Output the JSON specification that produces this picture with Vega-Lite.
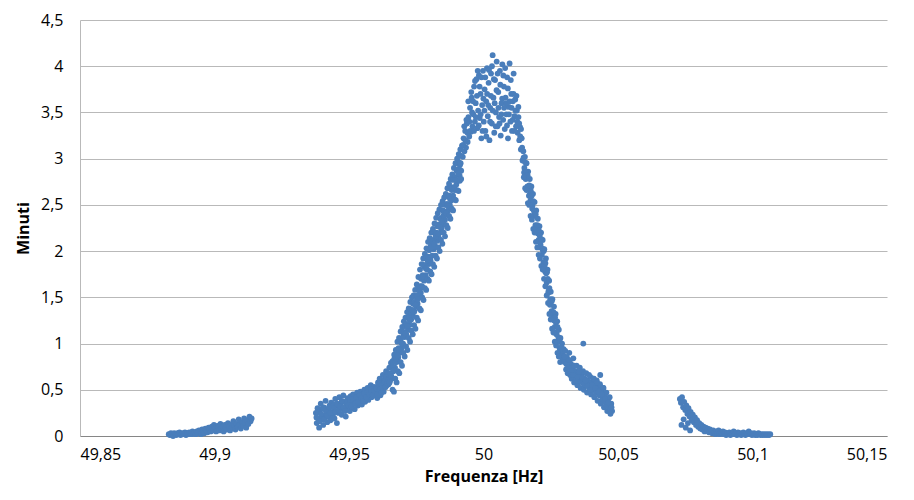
{
"$schema": "https://vega.github.io/schema/vega-lite/v6.json",
"width": 807, "height": 416,
"autosize": {"type": "none"},
"padding": {"left": 80, "top": 20, "right": 27, "bottom": 64},
"background": "white",
"config": {"view": {"stroke": null}, "font": "Open Sans"},
"data": {"values": [
{"f":49.8830,"m":0.02},{"f":49.8834,"m":0.01},{"f":49.8838,"m":0.03},{"f":49.8842,"m":0.02},{"f":49.8846,"m":0.00},{"f":49.8850,"m":0.03},{"f":49.8854,"m":0.02},{"f":49.8858,"m":0.01},{"f":49.8862,"m":0.03},{"f":49.8866,"m":0.02},
{"f":49.8870,"m":0.04},{"f":49.8874,"m":0.01},{"f":49.8878,"m":0.02},{"f":49.8882,"m":0.03},{"f":49.8886,"m":0.02},{"f":49.8890,"m":0.04},{"f":49.8894,"m":0.01},{"f":49.8898,"m":0.03},{"f":49.8902,"m":0.02},{"f":49.8906,"m":0.04},
{"f":49.8910,"m":0.03},{"f":49.8914,"m":0.02},{"f":49.8918,"m":0.05},{"f":49.8922,"m":0.03},{"f":49.8926,"m":0.04},{"f":49.8930,"m":0.02},{"f":49.8934,"m":0.05},{"f":49.8938,"m":0.03},{"f":49.8942,"m":0.06},{"f":49.8946,"m":0.04},
{"f":49.8950,"m":0.02},{"f":49.8954,"m":0.07},{"f":49.8958,"m":0.05},{"f":49.8962,"m":0.03},{"f":49.8966,"m":0.08},{"f":49.8970,"m":0.06},{"f":49.8974,"m":0.04},{"f":49.8978,"m":0.09},{"f":49.8982,"m":0.07},{"f":49.8986,"m":0.05},
{"f":49.8990,"m":0.10},{"f":49.8994,"m":0.06},{"f":49.8998,"m":0.12},{"f":49.9002,"m":0.08},{"f":49.9006,"m":0.05},{"f":49.9010,"m":0.11},{"f":49.9014,"m":0.09},{"f":49.9018,"m":0.06},{"f":49.9022,"m":0.13},{"f":49.9026,"m":0.08},
{"f":49.9030,"m":0.10},{"f":49.9034,"m":0.05},{"f":49.9038,"m":0.12},{"f":49.9042,"m":0.09},{"f":49.9046,"m":0.07},{"f":49.9050,"m":0.14},{"f":49.9054,"m":0.10},{"f":49.9058,"m":0.06},{"f":49.9062,"m":0.12},{"f":49.9066,"m":0.09},
{"f":49.9070,"m":0.16},{"f":49.9074,"m":0.11},{"f":49.9078,"m":0.07},{"f":49.9082,"m":0.13},{"f":49.9086,"m":0.10},{"f":49.9090,"m":0.18},{"f":49.9094,"m":0.12},{"f":49.9098,"m":0.08},{"f":49.9102,"m":0.15},{"f":49.9106,"m":0.11},
{"f":49.9110,"m":0.19},{"f":49.9114,"m":0.14},{"f":49.9118,"m":0.09},{"f":49.9122,"m":0.17},{"f":49.9126,"m":0.13},{"f":49.9130,"m":0.21},{"f":49.9134,"m":0.16},{"f":49.9138,"m":0.19},

{"f":49.9377,"m":0.25},{"f":49.9380,"m":0.14},{"f":49.9383,"m":0.30},{"f":49.9386,"m":0.19},{"f":49.9389,"m":0.09},{"f":49.9392,"m":0.27},{"f":49.9395,"m":0.35},{"f":49.9398,"m":0.18},{"f":49.9401,"m":0.22},{"f":49.9404,"m":0.12},
{"f":49.9407,"m":0.31},{"f":49.9410,"m":0.20},{"f":49.9413,"m":0.38},{"f":49.9416,"m":0.24},{"f":49.9419,"m":0.15},{"f":49.9422,"m":0.29},{"f":49.9425,"m":0.21},{"f":49.9428,"m":0.33},{"f":49.9431,"m":0.17},{"f":49.9434,"m":0.36},
{"f":49.9437,"m":0.26},{"f":49.9440,"m":0.22},{"f":49.9443,"m":0.34},{"f":49.9446,"m":0.19},{"f":49.9449,"m":0.40},{"f":49.9452,"m":0.27},{"f":49.9455,"m":0.14},{"f":49.9458,"m":0.33},{"f":49.9461,"m":0.25},{"f":49.9464,"m":0.42},
{"f":49.9467,"m":0.29},{"f":49.9470,"m":0.36},{"f":49.9473,"m":0.23},{"f":49.9476,"m":0.31},{"f":49.9479,"m":0.44},{"f":49.9482,"m":0.28},{"f":49.9485,"m":0.37},{"f":49.9488,"m":0.21},{"f":49.9491,"m":0.33},{"f":49.9494,"m":0.41},
{"f":49.9497,"m":0.30},{"f":49.9500,"m":0.38},{"f":49.9503,"m":0.27},{"f":49.9506,"m":0.43},{"f":49.9509,"m":0.34},{"f":49.9512,"m":0.30},{"f":49.9515,"m":0.45},{"f":49.9518,"m":0.36},{"f":49.9521,"m":0.29},{"f":49.9524,"m":0.41},
{"f":49.9527,"m":0.35},{"f":49.9530,"m":0.47},{"f":49.9533,"m":0.33},{"f":49.9536,"m":0.40},{"f":49.9539,"m":0.36},{"f":49.9542,"m":0.48},{"f":49.9545,"m":0.38},{"f":49.9548,"m":0.34},{"f":49.9551,"m":0.45},{"f":49.9554,"m":0.40},
{"f":49.9557,"m":0.50},{"f":49.9560,"m":0.37},{"f":49.9563,"m":0.44},{"f":49.9566,"m":0.41},{"f":49.9569,"m":0.52},{"f":49.9572,"m":0.39},{"f":49.9575,"m":0.47},{"f":49.9578,"m":0.43},{"f":49.9581,"m":0.55},{"f":49.9584,"m":0.42},
{"f":49.9587,"m":0.49},{"f":49.9590,"m":0.46},{"f":49.9593,"m":0.53},{"f":49.9596,"m":0.44},{"f":49.9599,"m":0.50},
{"f":49.9379,"m":0.20},{"f":49.9385,"m":0.26},{"f":49.9390,"m":0.16},{"f":49.9396,"m":0.24},{"f":49.9402,"m":0.30},{"f":49.9408,"m":0.18},{"f":49.9414,"m":0.27},{"f":49.9420,"m":0.22},{"f":49.9426,"m":0.31},{"f":49.9432,"m":0.25},
{"f":49.9438,"m":0.19},{"f":49.9444,"m":0.30},{"f":49.9450,"m":0.26},{"f":49.9456,"m":0.35},{"f":49.9462,"m":0.28},{"f":49.9468,"m":0.32},{"f":49.9474,"m":0.38},{"f":49.9480,"m":0.31},{"f":49.9486,"m":0.27},{"f":49.9492,"m":0.36},
{"f":49.9498,"m":0.33},{"f":49.9504,"m":0.39},{"f":49.9510,"m":0.32},{"f":49.9516,"m":0.40},{"f":49.9522,"m":0.35},{"f":49.9528,"m":0.42},{"f":49.9534,"m":0.37},{"f":49.9540,"m":0.44},{"f":49.9546,"m":0.41},{"f":49.9552,"m":0.38},
{"f":49.9558,"m":0.46},{"f":49.9564,"m":0.42},{"f":49.9570,"m":0.48},{"f":49.9576,"m":0.45},{"f":49.9582,"m":0.50},{"f":49.9588,"m":0.44},{"f":49.9594,"m":0.49},{"f":49.9600,"m":0.52},

{"f":49.9602,"m":0.52},{"f":49.9605,"m":0.41},{"f":49.9608,"m":0.58},{"f":49.9611,"m":0.47},{"f":49.9614,"m":0.62},{"f":49.9617,"m":0.44},{"f":49.9620,"m":0.57},{"f":49.9623,"m":0.50},{"f":49.9626,"m":0.66},{"f":49.9629,"m":0.48},
{"f":49.9632,"m":0.61},{"f":49.9635,"m":0.53},{"f":49.9638,"m":0.70},{"f":49.9641,"m":0.55},{"f":49.9644,"m":0.68},{"f":49.9647,"m":0.56},{"f":49.9650,"m":0.74},{"f":49.9653,"m":0.60},{"f":49.9656,"m":0.79},{"f":49.9659,"m":0.63},
{"f":49.9662,"m":0.81},{"f":49.9665,"m":0.70},{"f":49.9668,"m":0.88},{"f":49.9671,"m":0.74},{"f":49.9674,"m":0.93},{"f":49.9677,"m":0.80},{"f":49.9680,"m":1.02},{"f":49.9683,"m":0.85},{"f":49.9686,"m":1.06},{"f":49.9689,"m":0.90},
{"f":49.9692,"m":1.13},{"f":49.9695,"m":0.95},{"f":49.9698,"m":1.18},{"f":49.9701,"m":1.00},{"f":49.9704,"m":1.24},{"f":49.9707,"m":1.07},{"f":49.9710,"m":1.28},{"f":49.9713,"m":1.10},{"f":49.9716,"m":1.34},{"f":49.9719,"m":1.15},
{"f":49.9722,"m":1.38},{"f":49.9725,"m":1.20},{"f":49.9728,"m":1.45},{"f":49.9731,"m":1.26},{"f":49.9734,"m":1.50},{"f":49.9737,"m":1.30},{"f":49.9740,"m":1.52},{"f":49.9743,"m":1.35},{"f":49.9746,"m":1.58},{"f":49.9749,"m":1.40},
{"f":49.9752,"m":1.64},{"f":49.9755,"m":1.43},{"f":49.9758,"m":1.72},{"f":49.9761,"m":1.50},{"f":49.9764,"m":1.80},{"f":49.9767,"m":1.55},{"f":49.9770,"m":1.86},{"f":49.9773,"m":1.61},{"f":49.9776,"m":1.92},{"f":49.9779,"m":1.68},
{"f":49.9782,"m":1.97},{"f":49.9785,"m":1.74},{"f":49.9788,"m":2.03},{"f":49.9791,"m":1.80},{"f":49.9794,"m":2.10},{"f":49.9797,"m":1.86},{"f":49.9800,"m":2.14},{"f":49.9803,"m":1.90},{"f":49.9806,"m":2.20},{"f":49.9809,"m":1.95},
{"f":49.9812,"m":2.24},{"f":49.9815,"m":2.02},{"f":49.9818,"m":2.30},{"f":49.9821,"m":2.05},{"f":49.9824,"m":2.36},{"f":49.9827,"m":2.11},{"f":49.9830,"m":2.41},{"f":49.9833,"m":2.15},{"f":49.9836,"m":2.45},{"f":49.9839,"m":2.20},
{"f":49.9842,"m":2.50},{"f":49.9845,"m":2.25},{"f":49.9848,"m":2.54},{"f":49.9851,"m":2.30},{"f":49.9854,"m":2.58},{"f":49.9857,"m":2.34},{"f":49.9860,"m":2.62},{"f":49.9863,"m":2.40},{"f":49.9866,"m":2.68},{"f":49.9869,"m":2.44},
{"f":49.9872,"m":2.73},{"f":49.9875,"m":2.50},{"f":49.9878,"m":2.78},{"f":49.9881,"m":2.55},{"f":49.9884,"m":2.83},{"f":49.9887,"m":2.60},{"f":49.9890,"m":2.90},{"f":49.9893,"m":2.66},{"f":49.9896,"m":2.95},{"f":49.9899,"m":2.72},
{"f":49.9902,"m":3.00},{"f":49.9905,"m":2.76},{"f":49.9908,"m":3.05},{"f":49.9911,"m":2.82},{"f":49.9914,"m":3.10},{"f":49.9917,"m":2.87},{"f":49.9920,"m":3.14},
{"f":49.9603,"m":0.51},{"f":49.9606,"m":0.45},{"f":49.9609,"m":0.56},{"f":49.9612,"m":0.50},{"f":49.9615,"m":0.51},{"f":49.9618,"m":0.57},{"f":49.9621,"m":0.47},{"f":49.9624,"m":0.56},{"f":49.9627,"m":0.52},{"f":49.9630,"m":0.59},
{"f":49.9633,"m":0.59},{"f":49.9636,"m":0.53},{"f":49.9639,"m":0.64},{"f":49.9642,"m":0.57},{"f":49.9645,"m":0.60},{"f":49.9648,"m":0.67},{"f":49.9651,"m":0.58},{"f":49.9654,"m":0.68},{"f":49.9657,"m":0.65},{"f":49.9660,"m":0.74},
{"f":49.9663,"m":0.75},{"f":49.9666,"m":0.71},{"f":49.9669,"m":0.84},{"f":49.9672,"m":0.80},{"f":49.9675,"m":0.84},{"f":49.9678,"m":0.92},{"f":49.9681,"m":0.87},{"f":49.9684,"m":0.95},{"f":49.9687,"m":0.93},{"f":49.9690,"m":1.03},
{"f":49.9693,"m":1.05},{"f":49.9696,"m":1.00},{"f":49.9699,"m":1.13},{"f":49.9702,"m":1.08},{"f":49.9705,"m":1.12},{"f":49.9708,"m":1.19},{"f":49.9711,"m":1.11},{"f":49.9714,"m":1.21},{"f":49.9717,"m":1.19},{"f":49.9720,"m":1.28},
{"f":49.9723,"m":1.30},{"f":49.9726,"m":1.25},{"f":49.9729,"m":1.37},{"f":49.9732,"m":1.33},{"f":49.9735,"m":1.36},{"f":49.9738,"m":1.43},{"f":49.9741,"m":1.34},{"f":49.9744,"m":1.45},{"f":49.9747,"m":1.42},{"f":49.9750,"m":1.51},
{"f":49.9753,"m":1.52},{"f":49.9756,"m":1.48},{"f":49.9759,"m":1.61},{"f":49.9762,"m":1.57},{"f":49.9765,"m":1.62},{"f":49.9768,"m":1.70},{"f":49.9771,"m":1.62},{"f":49.9774,"m":1.74},{"f":49.9777,"m":1.72},{"f":49.9780,"m":1.83},
{"f":49.9783,"m":1.85},{"f":49.9786,"m":1.81},{"f":49.9789,"m":1.94},{"f":49.9792,"m":1.90},{"f":49.9795,"m":1.94},{"f":49.9798,"m":2.01},{"f":49.9801,"m":1.93},{"f":49.9804,"m":2.06},{"f":49.9807,"m":2.04},{"f":49.9810,"m":2.11},
{"f":49.9813,"m":2.12},{"f":49.9816,"m":2.08},{"f":49.9819,"m":2.20},{"f":49.9822,"m":2.16},{"f":49.9825,"m":2.20},{"f":49.9828,"m":2.27},{"f":49.9831,"m":2.19},{"f":49.9834,"m":2.29},{"f":49.9837,"m":2.26},{"f":49.9840,"m":2.35},
{"f":49.9843,"m":2.36},{"f":49.9846,"m":2.32},{"f":49.9849,"m":2.44},{"f":49.9852,"m":2.39},{"f":49.9855,"m":2.43},{"f":49.9858,"m":2.50},{"f":49.9861,"m":2.41},{"f":49.9864,"m":2.51},{"f":49.9867,"m":2.49},{"f":49.9870,"m":2.59},
{"f":49.9873,"m":2.60},{"f":49.9876,"m":2.56},{"f":49.9879,"m":2.69},{"f":49.9882,"m":2.66},{"f":49.9885,"m":2.69},{"f":49.9888,"m":2.77},{"f":49.9891,"m":2.69},{"f":49.9894,"m":2.80},{"f":49.9897,"m":2.77},{"f":49.9900,"m":2.87},
{"f":49.9903,"m":2.88},{"f":49.9906,"m":2.84},{"f":49.9909,"m":2.96},{"f":49.9912,"m":2.93},{"f":49.9915,"m":2.95},{"f":49.9918,"m":3.03},
{"f":49.9662,"m":0.50},{"f":49.9667,"m":0.48},{"f":49.9672,"m":0.62},{"f":49.9677,"m":0.58},{"f":49.9682,"m":0.70},{"f":49.9687,"m":0.68},{"f":49.9692,"m":0.80},{"f":49.9697,"m":0.76},{"f":49.9702,"m":0.90},{"f":49.9707,"m":0.86},
{"f":49.9712,"m":0.97},{"f":49.9717,"m":0.93},{"f":49.9722,"m":1.06},{"f":49.9727,"m":1.02},{"f":49.9732,"m":1.14},{"f":49.9737,"m":1.10},{"f":49.9742,"m":1.20},{"f":49.9747,"m":1.16},{"f":49.9752,"m":1.28},{"f":49.9757,"m":1.25},
{"f":49.9762,"m":1.38},{"f":49.9767,"m":1.36},{"f":49.9772,"m":1.50},{"f":49.9777,"m":1.47},{"f":49.9782,"m":1.60},{"f":49.9787,"m":1.58},{"f":49.9792,"m":1.70},{"f":49.9797,"m":1.68},{"f":49.9802,"m":1.78},{"f":49.9807,"m":1.75},
{"f":49.9812,"m":1.86},{"f":49.9817,"m":1.83},{"f":49.9822,"m":1.95},{"f":49.9827,"m":1.92},{"f":49.9832,"m":2.04},{"f":49.9837,"m":2.00},{"f":49.9842,"m":2.12},{"f":49.9847,"m":2.08},{"f":49.9852,"m":2.20},{"f":49.9857,"m":2.16},
{"f":49.9862,"m":2.28},{"f":49.9867,"m":2.25},{"f":49.9872,"m":2.38},{"f":49.9877,"m":2.35},{"f":49.9882,"m":2.46},{"f":49.9887,"m":2.44},{"f":49.9892,"m":2.56},{"f":49.9897,"m":2.55},{"f":49.9902,"m":2.66},{"f":49.9907,"m":2.65},
{"f":49.9912,"m":2.76},{"f":49.9917,"m":2.78},

{"f":49.9923,"m":3.02},{"f":49.9926,"m":3.22},{"f":49.9929,"m":3.08},{"f":49.9932,"m":3.30},{"f":49.9935,"m":3.12},{"f":49.9938,"m":3.38},{"f":49.9941,"m":3.18},{"f":49.9944,"m":3.45},{"f":49.9947,"m":3.24},{"f":49.9950,"m":3.55},
{"f":49.9953,"m":3.29},{"f":49.9956,"m":3.66},{"f":49.9959,"m":3.35},{"f":49.9962,"m":3.48},{"f":49.9965,"m":3.78},{"f":49.9968,"m":3.40},{"f":49.9971,"m":3.60},{"f":49.9974,"m":3.86},{"f":49.9977,"m":3.33},{"f":49.9980,"m":3.52},
{"f":49.9983,"m":3.90},{"f":49.9986,"m":3.44},{"f":49.9989,"m":3.70},{"f":49.9992,"m":3.22},{"f":49.9995,"m":3.58},{"f":49.9998,"m":3.95},{"f":50.0001,"m":3.40},{"f":50.0004,"m":3.75},{"f":50.0007,"m":3.30},{"f":50.0010,"m":3.62},
{"f":50.0013,"m":3.98},{"f":50.0016,"m":3.46},{"f":50.0019,"m":3.82},{"f":50.0022,"m":3.20},{"f":50.0025,"m":3.55},{"f":50.0028,"m":3.92},{"f":50.0031,"m":3.38},{"f":50.0034,"m":4.12},{"f":50.0037,"m":3.66},{"f":50.0040,"m":3.28},
{"f":50.0043,"m":3.85},{"f":50.0046,"m":3.50},{"f":50.0049,"m":4.05},{"f":50.0052,"m":3.35},{"f":50.0055,"m":3.72},{"f":50.0058,"m":3.45},{"f":50.0061,"m":3.95},{"f":50.0064,"m":3.25},{"f":50.0067,"m":3.60},{"f":50.0070,"m":4.02},
{"f":50.0073,"m":3.42},{"f":50.0076,"m":3.78},{"f":50.0079,"m":3.32},{"f":50.0082,"m":3.66},{"f":50.0085,"m":3.48},{"f":50.0088,"m":3.88},{"f":50.0091,"m":3.22},{"f":50.0094,"m":3.56},{"f":50.0097,"m":4.03},{"f":50.0100,"m":3.40},
{"f":50.0103,"m":3.70},{"f":50.0106,"m":3.30},{"f":50.0109,"m":3.62},{"f":50.0112,"m":3.92},{"f":50.0115,"m":3.46},{"f":50.0118,"m":3.64},{"f":50.0121,"m":3.35},{"f":50.0124,"m":3.52},{"f":50.0127,"m":3.28},{"f":50.0130,"m":3.45},
{"f":50.0133,"m":3.20},{"f":50.0136,"m":3.34},{"f":50.0139,"m":3.10},{"f":50.0142,"m":3.22},{"f":50.0145,"m":2.98},
{"f":49.99245,"m":3.15},{"f":49.99285,"m":3.35},{"f":49.99325,"m":3.20},{"f":49.99365,"m":3.42},{"f":49.99405,"m":3.28},{"f":49.99435,"m":3.62},{"f":49.99475,"m":3.40},{"f":49.99505,"m":3.30},{"f":49.99545,"m":3.72},{"f":49.99575,"m":3.50},
{"f":49.99615,"m":3.62},{"f":49.99645,"m":3.30},{"f":49.99685,"m":3.84},{"f":49.99715,"m":3.45},{"f":49.99755,"m":3.68},{"f":49.99785,"m":3.95},{"f":49.99825,"m":3.36},{"f":49.99855,"m":3.78},{"f":49.99895,"m":3.48},{"f":49.99925,"m":3.88},
{"f":49.99965,"m":3.30},{"f":49.99995,"m":3.65},{"f":50.00035,"m":3.52},{"f":50.00065,"m":3.88},{"f":50.00105,"m":3.24},{"f":50.00135,"m":3.70},{"f":50.00175,"m":3.58},{"f":50.00205,"m":3.96},{"f":50.00245,"m":3.40},{"f":50.00275,"m":3.68},
{"f":50.00315,"m":4.00},{"f":50.00345,"m":3.52},{"f":50.00385,"m":3.86},{"f":50.00415,"m":3.60},{"f":50.00455,"m":3.35},{"f":50.00485,"m":3.74},{"f":50.00525,"m":3.92},{"f":50.00555,"m":3.55},{"f":50.00595,"m":3.38},{"f":50.00625,"m":3.80},
{"f":50.00665,"m":3.48},{"f":50.00695,"m":3.65},{"f":50.00735,"m":3.90},{"f":50.00765,"m":3.55},{"f":50.00805,"m":3.98},{"f":50.00835,"m":3.60},{"f":50.00875,"m":3.36},{"f":50.00905,"m":3.76},{"f":50.00945,"m":3.48},{"f":50.00975,"m":3.62},
{"f":50.01015,"m":3.85},{"f":50.01045,"m":3.55},{"f":50.01085,"m":3.42},{"f":50.01115,"m":3.70},{"f":50.01155,"m":3.30},{"f":50.01185,"m":3.52},{"f":50.01225,"m":3.68},{"f":50.01255,"m":3.40},{"f":50.01295,"m":3.56},{"f":50.01325,"m":3.38},
{"f":50.01365,"m":3.24},{"f":50.01395,"m":3.32},{"f":50.01435,"m":3.12},

{"f":50.0148,"m":3.08},{"f":50.0151,"m":2.85},{"f":50.0154,"m":3.02},{"f":50.0157,"m":2.78},{"f":50.0160,"m":2.95},{"f":50.0163,"m":2.70},{"f":50.0166,"m":2.86},{"f":50.0169,"m":2.60},{"f":50.0172,"m":2.78},{"f":50.0175,"m":2.55},
{"f":50.0178,"m":2.70},{"f":50.0181,"m":2.46},{"f":50.0184,"m":2.62},{"f":50.0187,"m":2.38},{"f":50.0190,"m":2.53},{"f":50.0193,"m":2.28},{"f":50.0196,"m":2.44},{"f":50.0199,"m":2.20},{"f":50.0202,"m":2.35},{"f":50.0205,"m":2.12},
{"f":50.0208,"m":2.27},{"f":50.0211,"m":2.04},{"f":50.0214,"m":2.20},{"f":50.0217,"m":1.96},{"f":50.0220,"m":2.12},{"f":50.0223,"m":1.88},{"f":50.0226,"m":2.02},{"f":50.0229,"m":1.78},{"f":50.0232,"m":1.92},{"f":50.0235,"m":1.66},
{"f":50.0238,"m":1.80},{"f":50.0241,"m":1.55},{"f":50.0244,"m":1.68},{"f":50.0247,"m":1.42},{"f":50.0250,"m":1.56},{"f":50.0253,"m":1.35},{"f":50.0256,"m":1.48},{"f":50.0259,"m":1.27},{"f":50.0262,"m":1.40},{"f":50.0265,"m":1.18},
{"f":50.0268,"m":1.32},{"f":50.0271,"m":1.10},{"f":50.0274,"m":1.24},{"f":50.0277,"m":1.02},{"f":50.0280,"m":1.15},{"f":50.0283,"m":0.95},{"f":50.0286,"m":1.06},{"f":50.0289,"m":0.88},{"f":50.0292,"m":1.00},{"f":50.0295,"m":0.83},
{"f":50.0298,"m":0.94},
{"f":50.0149,"m":3.01},{"f":50.0152,"m":2.90},{"f":50.0155,"m":2.96},{"f":50.0158,"m":2.85},{"f":50.0161,"m":2.82},{"f":50.0164,"m":2.82},{"f":50.0167,"m":2.67},{"f":50.0170,"m":2.71},{"f":50.0173,"m":2.62},{"f":50.0176,"m":2.65},
{"f":50.0179,"m":2.60},{"f":50.0182,"m":2.49},{"f":50.0185,"m":2.54},{"f":50.0188,"m":2.43},{"f":50.0191,"m":2.40},{"f":50.0194,"m":2.40},{"f":50.0197,"m":2.25},{"f":50.0200,"m":2.28},{"f":50.0203,"m":2.19},{"f":50.0206,"m":2.22},
{"f":50.0209,"m":2.17},{"f":50.0212,"m":2.07},{"f":50.0215,"m":2.13},{"f":50.0218,"m":2.03},{"f":50.0221,"m":2.00},{"f":50.0224,"m":2.00},{"f":50.0227,"m":1.84},{"f":50.0230,"m":1.87},{"f":50.0233,"m":1.76},{"f":50.0236,"m":1.77},
{"f":50.0239,"m":1.70},{"f":50.0242,"m":1.57},{"f":50.0245,"m":1.60},{"f":50.0248,"m":1.48},{"f":50.0251,"m":1.45},{"f":50.0254,"m":1.46},{"f":50.0257,"m":1.31},{"f":50.0260,"m":1.34},{"f":50.0263,"m":1.25},{"f":50.0266,"m":1.28},
{"f":50.0269,"m":1.23},{"f":50.0272,"m":1.12},{"f":50.0275,"m":1.18},{"f":50.0278,"m":1.07},{"f":50.0281,"m":1.04},{"f":50.0284,"m":1.05},{"f":50.0287,"m":0.91},{"f":50.0290,"m":0.96},{"f":50.0293,"m":0.88},{"f":50.0296,"m":0.92},
{"f":50.0150,"m":2.80},{"f":50.0155,"m":2.68},{"f":50.0160,"m":2.66},{"f":50.0165,"m":2.52},{"f":50.0170,"m":2.50},{"f":50.0175,"m":2.38},{"f":50.0180,"m":2.34},{"f":50.0185,"m":2.24},{"f":50.0190,"m":2.20},{"f":50.0195,"m":2.10},
{"f":50.0200,"m":2.04},{"f":50.0205,"m":1.96},{"f":50.0210,"m":1.92},{"f":50.0215,"m":1.84},{"f":50.0220,"m":1.80},{"f":50.0225,"m":1.70},{"f":50.0230,"m":1.62},{"f":50.0235,"m":1.52},{"f":50.0240,"m":1.44},{"f":50.0245,"m":1.32},
{"f":50.0250,"m":1.26},{"f":50.0255,"m":1.16},{"f":50.0260,"m":1.12},{"f":50.0265,"m":1.02},{"f":50.0270,"m":0.98},{"f":50.0275,"m":0.90},{"f":50.0280,"m":0.86},{"f":50.0285,"m":0.80},

{"f":50.0301,"m":0.80},{"f":50.0304,"m":0.92},{"f":50.0307,"m":0.72},{"f":50.0310,"m":0.85},{"f":50.0313,"m":0.68},{"f":50.0316,"m":0.80},{"f":50.0319,"m":0.90},{"f":50.0322,"m":0.66},{"f":50.0325,"m":0.78},{"f":50.0328,"m":0.62},
{"f":50.0331,"m":0.74},{"f":50.0334,"m":0.84},{"f":50.0337,"m":0.58},{"f":50.0340,"m":0.70},{"f":50.0343,"m":0.64},{"f":50.0346,"m":0.76},{"f":50.0349,"m":0.55},{"f":50.0352,"m":0.68},{"f":50.0355,"m":0.60},{"f":50.0358,"m":0.74},
{"f":50.0361,"m":0.52},{"f":50.0364,"m":0.66},{"f":50.0367,"m":0.58},{"f":50.0370,"m":0.70},{"f":50.0371,"m":1.00},{"f":50.0373,"m":0.50},{"f":50.0376,"m":0.62},{"f":50.0379,"m":0.55},{"f":50.0382,"m":0.68},{"f":50.0385,"m":0.47},
{"f":50.0388,"m":0.60},{"f":50.0391,"m":0.56},{"f":50.0394,"m":0.52},{"f":50.0397,"m":0.64},{"f":50.0400,"m":0.45},{"f":50.0403,"m":0.58},{"f":50.0406,"m":0.50},{"f":50.0409,"m":0.62},{"f":50.0412,"m":0.42},{"f":50.0415,"m":0.55},
{"f":50.0418,"m":0.47},{"f":50.0421,"m":0.60},{"f":50.0424,"m":0.38},{"f":50.0427,"m":0.52},{"f":50.0430,"m":0.44},{"f":50.0433,"m":0.56},{"f":50.0436,"m":0.35},{"f":50.0439,"m":0.48},{"f":50.0442,"m":0.40},{"f":50.0445,"m":0.52},
{"f":50.0448,"m":0.31},{"f":50.0451,"m":0.44},{"f":50.0454,"m":0.36},{"f":50.0457,"m":0.47},{"f":50.0460,"m":0.27},{"f":50.0463,"m":0.39},{"f":50.0466,"m":0.31},{"f":50.0469,"m":0.42},{"f":50.0472,"m":0.24},{"f":50.0475,"m":0.35},
{"f":50.0478,"m":0.27},
{"f":50.0302,"m":0.86},{"f":50.0308,"m":0.78},{"f":50.0314,"m":0.74},{"f":50.0320,"m":0.82},{"f":50.0326,"m":0.70},{"f":50.0332,"m":0.66},{"f":50.0338,"m":0.76},{"f":50.0344,"m":0.60},{"f":50.0350,"m":0.64},{"f":50.0356,"m":0.70},
{"f":50.0362,"m":0.59},{"f":50.0368,"m":0.63},{"f":50.0374,"m":0.56},{"f":50.0380,"m":0.60},{"f":50.0386,"m":0.54},{"f":50.0392,"m":0.66},{"f":50.0398,"m":0.50},{"f":50.0404,"m":0.55},{"f":50.0410,"m":0.62},{"f":50.0416,"m":0.52},
{"f":50.0422,"m":0.58},{"f":50.0428,"m":0.48},{"f":50.0434,"m":0.66},{"f":50.0440,"m":0.45},{"f":50.0446,"m":0.52},{"f":50.0452,"m":0.40},{"f":50.0458,"m":0.33},{"f":50.0464,"m":0.36},{"f":50.0470,"m":0.29},{"f":50.0476,"m":0.31},

{"f":50.0730,"m":0.40},{"f":50.0734,"m":0.36},{"f":50.0736,"m":0.12},{"f":50.0738,"m":0.42},{"f":50.0742,"m":0.31},{"f":50.0744,"m":0.18},{"f":50.0746,"m":0.37},{"f":50.0750,"m":0.28},{"f":50.0752,"m":0.09},{"f":50.0754,"m":0.33},
{"f":50.0758,"m":0.24},{"f":50.0760,"m":0.14},{"f":50.0762,"m":0.30},{"f":50.0766,"m":0.21},{"f":50.0768,"m":0.06},{"f":50.0770,"m":0.26},{"f":50.0774,"m":0.17},{"f":50.0778,"m":0.23},{"f":50.0782,"m":0.15},{"f":50.0786,"m":0.20},
{"f":50.0790,"m":0.12},{"f":50.0794,"m":0.17},{"f":50.0798,"m":0.10},{"f":50.0802,"m":0.14},{"f":50.0806,"m":0.08},{"f":50.0810,"m":0.12},{"f":50.0814,"m":0.07},{"f":50.0818,"m":0.10},{"f":50.0822,"m":0.05},{"f":50.0826,"m":0.09},
{"f":50.0830,"m":0.06},{"f":50.0834,"m":0.08},{"f":50.0838,"m":0.04},{"f":50.0842,"m":0.07},{"f":50.0846,"m":0.05},{"f":50.0850,"m":0.03},{"f":50.0854,"m":0.06},{"f":50.0858,"m":0.04},{"f":50.0862,"m":0.02},{"f":50.0866,"m":0.05},
{"f":50.0870,"m":0.03},{"f":50.0874,"m":0.06},{"f":50.0878,"m":0.02},{"f":50.0882,"m":0.04},{"f":50.0886,"m":0.03},{"f":50.0890,"m":0.05},{"f":50.0894,"m":0.02},{"f":50.0898,"m":0.04},{"f":50.0902,"m":0.01},{"f":50.0906,"m":0.03},
{"f":50.0910,"m":0.02},{"f":50.0914,"m":0.04},{"f":50.0918,"m":0.01},{"f":50.0922,"m":0.03},{"f":50.0926,"m":0.02},{"f":50.0930,"m":0.05},{"f":50.0934,"m":0.02},{"f":50.0938,"m":0.03},{"f":50.0942,"m":0.01},{"f":50.0946,"m":0.04},
{"f":50.0950,"m":0.02},{"f":50.0954,"m":0.03},{"f":50.0958,"m":0.01},{"f":50.0962,"m":0.02},{"f":50.0966,"m":0.04},{"f":50.0970,"m":0.02},{"f":50.0974,"m":0.01},{"f":50.0978,"m":0.03},{"f":50.0982,"m":0.02},{"f":50.0986,"m":0.05},
{"f":50.0990,"m":0.02},{"f":50.0994,"m":0.03},{"f":50.0998,"m":0.01},{"f":50.1002,"m":0.02},{"f":50.1006,"m":0.03},{"f":50.1010,"m":0.01},{"f":50.1014,"m":0.02},{"f":50.1018,"m":0.01},{"f":50.1022,"m":0.03},{"f":50.1026,"m":0.02},
{"f":50.1030,"m":0.01},{"f":50.1034,"m":0.02},{"f":50.1038,"m":0.01},{"f":50.1042,"m":0.02},{"f":50.1046,"m":0.01},{"f":50.1050,"m":0.02},{"f":50.1054,"m":0.01},{"f":50.1058,"m":0.02},{"f":50.1062,"m":0.01},{"f":50.1066,"m":0.02}
]},
"mark": {"type": "circle", "size": 34, "color": "#4a7ebb", "opacity": 1},
"encoding": {
  "x": {"field": "f", "type": "quantitative",
    "scale": {"domain": [49.85, 50.15], "nice": false, "zero": false},
    "axis": {"values": [49.85, 49.9, 49.95, 50, 50.05, 50.1, 50.15],
      "labelExpr": "replace(format(datum.value, '.2~f'), '.', ',')",
      "title": "Frequenza [Hz]", "grid": false, "ticks": false,
      "domainColor": "#868686", "domainWidth": 1,
      "labelFontSize": 16, "labelColor": "#000000", "labelPadding": 10,
      "titleFontSize": 16, "titleFontWeight": "bold", "titleColor": "#000000", "titlePadding": 6}},
  "y": {"field": "m", "type": "quantitative",
    "scale": {"domain": [0, 4.5], "nice": false},
    "axis": {"values": [0, 0.5, 1, 1.5, 2, 2.5, 3, 3.5, 4, 4.5],
      "labelExpr": "replace(format(datum.value, '.1~f'), '.', ',')",
      "title": "Minuti", "grid": true, "gridColor": "#b9b9b9", "gridWidth": 1.2, "ticks": false,
      "domainColor": "#b9b9b9",
      "labelFontSize": 16, "labelColor": "#000000", "labelPadding": 17,
      "titleFontSize": 16, "titleFontWeight": "bold", "titleColor": "#000000", "titlePadding": 9}}
}
}
